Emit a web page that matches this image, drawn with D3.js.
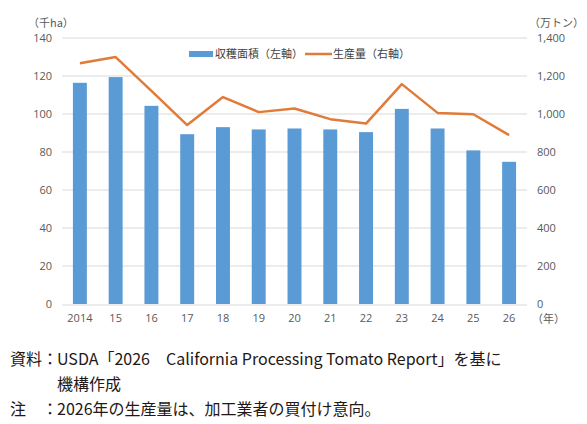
<!DOCTYPE html>
<html>
<head>
<meta charset="utf-8">
<script src="https://cdn.jsdelivr.net/npm/d3@7"></script>
<style>
  body { margin: 0; background: #fff; }
  svg text { font-family: "Noto Sans CJK JP", "Noto Sans", sans-serif; }
</style>
</head>
<body>
<div id="chart"></div>
<script>
// data
var years = ["2014", "15", "16", "17", "18", "19", "20", "21", "22", "23", "24", "25", "26"]
var area = [116.2, 119.2, 104.1, 89.2, 92.9, 91.7, 92.2, 91.7, 90.3, 102.5, 92.2, 80.7, 74.7]   // 千ha
var production = [1265, 1297, 1120, 940, 1087, 1008, 1027, 971, 948, 1155, 1004, 997, 887]    // 万トン
var leftTicks = [0, 20, 40, 60, 80, 100, 120, 140]
var rightTicks = [0, 200, 400, 600, 800, 1000, 1200, 1400]

var W = 587, H = 424
var margin = {top: 37.5, right: 60, bottom: 120, left: 62},
    width = W - margin.left - margin.right,
    height = H - margin.top - margin.bottom

var svg = d3.select("#chart")
  .append("svg")
    .attr("width", W)
    .attr("height", H)

var g = svg.append("g")
    .attr("transform", "translate(" + margin.left + "," + margin.top + ")")

var x = d3.scaleBand()
  .domain(years)
  .range([0, width])
  .paddingInner(0.61)
  .paddingOuter(0.305)

var yL = d3.scaleLinear().domain([0, 140]).range([height, 0])
var yR = d3.scaleLinear().domain([0, 1400]).range([height, 0])

// gridlines
g.selectAll(".grid")
  .data(leftTicks)
  .enter().append("line")
    .attr("x1", 0)
    .attr("x2", width)
    .attr("y1", function(d) { return Math.round(yL(d)) + 0.5 })
    .attr("y2", function(d) { return Math.round(yL(d)) + 0.5 })
    .attr("stroke", "#d9d9d9")
    .attr("stroke-width", 1)

// left axis
var axL = g.append("g")
  .call(d3.axisLeft(yL).tickValues(leftTicks).tickSize(0).tickPadding(10))
axL.select(".domain").remove()
axL.selectAll("text").attr("fill", "#595959").style("font-size", "11px")
  .style("font-family", "'Open Sans', 'Noto Sans', sans-serif")

// right axis
var axR = g.append("g")
  .attr("transform", "translate(" + width + ",0)")
  .call(d3.axisRight(yR).tickValues(rightTicks).tickSize(0).tickPadding(10).tickFormat(d3.format(",")))
axR.select(".domain").remove()
axR.selectAll("text").attr("fill", "#595959").style("font-size", "11px")
  .style("font-family", "'Open Sans', 'Noto Sans', sans-serif")

// x axis
var axX = g.append("g")
  .attr("transform", "translate(0," + height + ")")
  .call(d3.axisBottom(x).tickSize(0).tickPadding(10))
axX.select(".domain").remove()
axX.selectAll("text").attr("fill", "#595959").style("font-size", "11px")
  .style("font-family", "'Open Sans', 'Noto Sans', sans-serif")

// bars
g.selectAll(".bar")
  .data(area)
  .enter().append("rect")
    .attr("x", function(d, i) { return x(years[i]) })
    .attr("y", function(d) { return yL(d) })
    .attr("width", x.bandwidth())
    .attr("height", function(d) { return height - yL(d) })
    .attr("fill", "#5b9bd5")

// line
var line = d3.line()
  .x(function(d, i) { return x(years[i]) + x.bandwidth() / 2 })
  .y(function(d) { return yR(d) })

g.append("path")
  .datum(production)
  .attr("d", line)
  .attr("fill", "none")
  .attr("stroke", "#e07b39")
  .attr("stroke-width", 2.5)
  .attr("stroke-linejoin", "round")

// units
svg.append("text").attr("x", 28).attr("y", 27).text("（千ha）")
  .attr("fill", "#595959").style("font-size", "11px")
svg.append("text").attr("x", 529).attr("y", 27).text("（万トン）")
  .attr("fill", "#595959").style("font-size", "11px")
svg.append("text").attr("x", 532).attr("y", 323).text("（年）")
  .attr("fill", "#595959").style("font-size", "11px")

// legend
var leg = svg.append("g").attr("transform", "translate(189,54)")
leg.append("rect").attr("x", 0).attr("y", -3).attr("width", 24).attr("height", 6).attr("fill", "#5b9bd5")
leg.append("text").attr("x", 26).attr("y", 4).text("収穫面積（左軸）")
  .attr("fill", "#404040").style("font-size", "11px")
leg.append("line").attr("x1", 116).attr("x2", 143).attr("y1", 0).attr("y2", 0)
  .attr("stroke", "#e07b39").attr("stroke-width", 2.5)
leg.append("text").attr("x", 144).attr("y", 4).text("生産量（右軸）")
  .attr("fill", "#404040").style("font-size", "11px")

// source / note
var notes = svg.append("g").attr("fill", "#231815").style("font-size", "16px")
notes.append("text").attr("x", 10).attr("y", 365).text("資料")
notes.append("text").attr("x", 42).attr("y", 365).text("：")
notes.append("text").attr("x", 57).attr("y", 365).text("USDA「2026　California Processing Tomato Report」を基に")
notes.append("text").attr("x", 57).attr("y", 390).text("機構作成")
notes.append("text").attr("x", 10).attr("y", 415).text("注")
notes.append("text").attr("x", 42).attr("y", 415).text("：")
notes.append("text").attr("x", 57).attr("y", 415).text("2026年の生産量は、加工業者の買付け意向。")
</script>
</body>
</html>
